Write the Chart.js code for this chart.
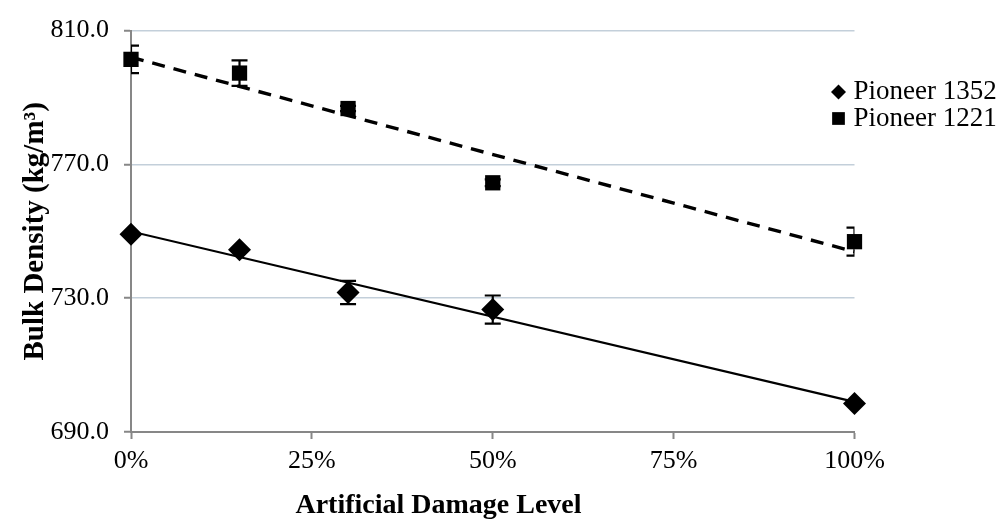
<!DOCTYPE html>
<html>
<head>
<meta charset="utf-8">
<script src="https://cdn.jsdelivr.net/npm/chart.js@4.4.1/dist/chart.umd.min.js"></script>
<style>
  html, body { margin: 0; padding: 0; background: #fff; }
  #wrap { position: relative; width: 1003px; height: 525px; }
</style>
</head>
<body>
<div id="wrap"><canvas id="density"></canvas></div>
<script>
// damage level (%) and bulk density (kg/m3) per hybrid, with std. error
const damageLevels = [0, 15, 30, 50, 100];
const p1352 = [749.1, 744.5, 731.7, 726.6, 698.5];
const p1352Err = [0.4, 0.5, 3.5, 4.2, 0.4];
const p1221 = [801.4, 797.3, 786.7, 764.5, 746.9];
const p1221Err = [4.1, 3.8, 0.8, 1.0, 4.2];
const xRange = [0, 100];
const yRange = [690, 810];
const xTitle = 'Artificial Damage Level';
const yTitle = 'Bulk Density (kg/m³)';

const serif = "'Liberation Serif', 'Times New Roman', serif";
const axisGray = '#878787';

// least squares fit, evaluated at both ends of the x range
function fitLine(xs, ys) {
  const n = xs.length;
  const mx = xs.reduce((a, b) => a + b, 0) / n;
  const my = ys.reduce((a, b) => a + b, 0) / n;
  let sxy = 0, sxx = 0;
  xs.forEach((x, i) => {
    sxy += (x - mx) * (ys[i] - my);
    sxx += (x - mx) * (x - mx);
  });
  const slope = sxy / sxx;
  const icpt = my - slope * mx;
  return xRange.map(x => ({ x: x, y: icpt + slope * x }));
}

function points(ys) {
  return damageLevels.map((x, i) => ({ x: x, y: ys[i] }));
}

// vertical error bars with caps, clipped to the plot area
const errorBars = {
  id: 'errorBars',
  afterDatasetsDraw(chart) {
    const ctx = chart.ctx;
    const area = chart.chartArea;
    const xs = chart.scales.x, ys = chart.scales.y;
    ctx.save();
    ctx.beginPath();
    ctx.rect(area.left, area.top, area.right - area.left, area.bottom - area.top);
    ctx.clip();
    ctx.strokeStyle = '#000';
    ctx.lineWidth = 2.2;
    chart.data.datasets.forEach(ds => {
      if (!ds.errors) return;
      ds.data.forEach((p, i) => {
        const px = xs.getPixelForValue(p.x);
        const top = ys.getPixelForValue(p.y + ds.errors[i]);
        const bot = ys.getPixelForValue(p.y - ds.errors[i]);
        ctx.beginPath();
        ctx.moveTo(px, top); ctx.lineTo(px, bot);
        ctx.moveTo(px - 8, top); ctx.lineTo(px + 8, top);
        ctx.moveTo(px - 8, bot); ctx.lineTo(px + 8, bot);
        ctx.stroke();
      });
    });
    ctx.restore();
  }
};

// marker + name for each measured series, to the right of the plot,
// and the x axis title, which sits left of the plot centre
const sideText = {
  id: 'sideText',
  afterDraw(chart) {
    const ctx = chart.ctx;
    const area = chart.chartArea;
    const x0 = area.right - 16;
    let y = 92;
    ctx.save();
    ctx.font = '27px ' + serif;
    ctx.textBaseline = 'middle';
    ctx.fillStyle = '#000';
    chart.data.datasets.forEach(ds => {
      if (!ds.errors) return;
      Chart.helpers.drawPoint(ctx, {
        pointStyle: ds.pointStyle,
        radius: ds.pointStyle === 'rect' ? 9 : 7.5,
        borderWidth: 0
      }, x0, y);
      ctx.fillText(ds.label, x0 + 15, y);
      y += 26.5;
    });
    ctx.font = 'bold 28px ' + serif;
    ctx.textAlign = 'center';
    ctx.fillText(xTitle, area.left + (area.right - area.left) * 0.425, 506);
    ctx.restore();
  }
};

new Chart(document.getElementById('density'), {
  type: 'scatter',
  data: {
    datasets: [
      {
        label: 'Pioneer 1352',
        data: points(p1352),
        errors: p1352Err,
        pointStyle: 'rectRot',
        pointRadius: 11.5,
        backgroundColor: '#000',
        borderColor: '#000',
        borderWidth: 0,
        clip: false,
        order: 1
      },
      {
        label: 'Pioneer 1221',
        data: points(p1221),
        errors: p1221Err,
        pointStyle: 'rect',
        pointRadius: 10.8,
        backgroundColor: '#000',
        borderColor: '#000',
        borderWidth: 0,
        clip: false,
        order: 1
      },
      {
        label: 'Linear (Pioneer 1352)',
        data: fitLine(damageLevels, p1352),
        showLine: true,
        pointRadius: 0,
        borderColor: '#000',
        borderWidth: 2.2,
        order: 2
      },
      {
        label: 'Linear (Pioneer 1221)',
        data: fitLine(damageLevels, p1221),
        showLine: true,
        pointRadius: 0,
        borderColor: '#000',
        borderWidth: 3.4,
        borderDash: [13, 9],
        order: 2
      }
    ]
  },
  options: {
    responsive: true,
    maintainAspectRatio: false,
    animation: false,
    layout: { padding: { left: 0, top: 23, right: 148.5, bottom: 0 } },
    plugins: {
      legend: { display: false },
      tooltip: { enabled: false }
    },
    scales: {
      x: {
        type: 'linear',
        min: xRange[0],
        max: xRange[1],
        afterFit: s => { s.height = 93; },
        ticks: {
          stepSize: 25,
          color: '#000',
          padding: 7,
          font: { family: serif, size: 26 },
          callback: v => v + '%'
        },
        grid: {
          drawOnChartArea: false,
          tickLength: 7,
          tickColor: axisGray,
          tickWidth: 2
        },
        border: { color: axisGray, width: 2 }
      },
      y: {
        min: yRange[0],
        max: yRange[1],
        afterFit: s => { s.width = 131; },
        ticks: {
          stepSize: 40,
          color: '#000',
          padding: 15,
          font: { family: serif, size: 26 },
          callback: v => v.toFixed(1)
        },
        grid: {
          color: '#c3cfda',
          lineWidth: 1.5,
          tickLength: 7,
          tickColor: axisGray,
          tickWidth: 2
        },
        border: { color: axisGray, width: 2 },
        title: {
          display: true,
          text: yTitle,
          color: '#000',
          padding: { top: 18 },
          font: { family: serif, size: 29, weight: 'bold' }
        }
      }
    }
  },
  plugins: [errorBars, sideText]
});
</script>
</body>
</html>
